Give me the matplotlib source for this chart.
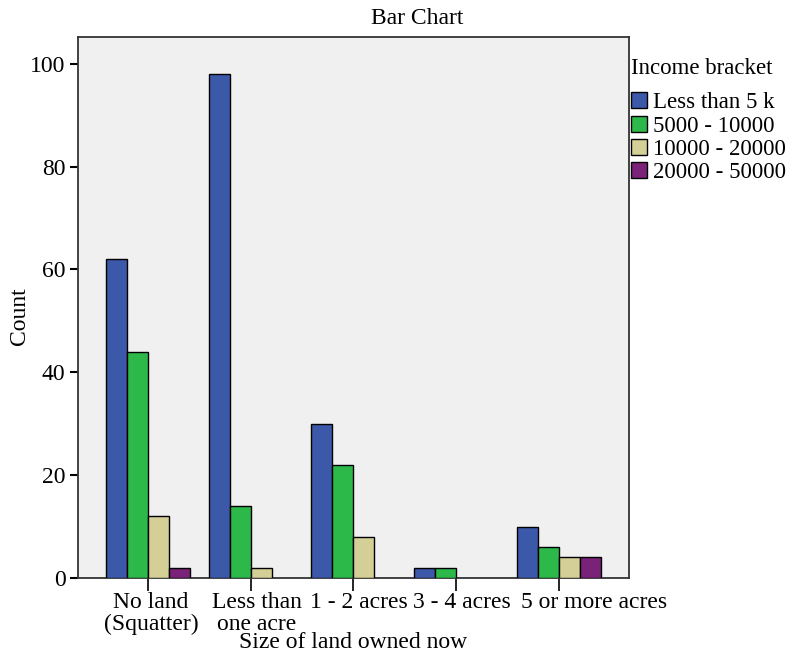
import matplotlib
matplotlib.use("Agg")
import matplotlib.pyplot as plt
import numpy as np

categories = ["No land\n(Squatter)", "Less than\none acre", "1 - 2 acres", "3 - 4 acres", "5 or more acres"]
series_names = ["Less than 5 k", "5000 - 10000", "10000 - 20000", "20000 - 50000"]
less_than_5k = [62, 98, 30, 2, 10]
s5000_10000 = [44, 14, 22, 2, 6]
s10000_20000 = [12, 2, 8, 0, 4]
s20000_50000 = [2, 0, 0, 0, 4]
yticks = [0, 20, 40, 60, 80, 100]

colors = ["#3c58a8", "#2db84a", "#d4cf96", "#7a2278"]
values = [less_than_5k, s5000_10000, s10000_20000, s20000_50000]
# horizontal shift of each category label (axis units), as laid out in the reference
label_shift = [0.03, 0.06, 0.05, 0.06, 0.34]

plt.rcParams['font.family'] = ['Liberation Serif', 'DejaVu Serif']

fig = plt.figure(figsize=(7.96, 6.54), dpi=100)
ax = fig.add_axes([0.098, 0.1162, 0.692, 0.8272])
ax.set_facecolor("#f0f0f0")

x = np.arange(len(categories))
w = 0.205
handles = []
for i, (vals, c, name) in enumerate(zip(values, colors, series_names)):
    xs = x + (i - 1.5) * w
    mask = [v > 0 for v in vals]
    b = ax.bar(xs[mask], np.array(vals)[mask], width=w, color=c, edgecolor="black", linewidth=1.0, label=name, zorder=3)
    handles.append(b)

ax.set_xlim(-0.68, 4.68)
ax.set_ylim(0, 105.2)
ax.set_yticks(yticks)
ax.set_xticks(x)
ax.set_xticklabels([""] * len(categories))
ax.set_xticks(x + np.array(label_shift), minor=True)
ax.set_xticklabels(categories, minor=True, fontsize=17, linespacing=1.08)
ax.tick_params(axis='y', labelsize=17, length=6, width=1.5, direction='out', pad=3)
ax.tick_params(axis='x', which='major', length=9, width=1.2, direction='out', pad=1)
ax.tick_params(axis='x', which='minor', length=0, pad=10)
for s in ax.spines.values():
    s.set_linewidth(1.3)
    s.set_color("#333333")
ax.set_ylabel("Count", fontsize=17)
ax.yaxis.set_label_coords(-0.088, 0.484)
ax.set_xlabel("Size of land owned now", fontsize=17, va="center")
ax.xaxis.set_label_coords(0.5, -(642 - 578) / 541)
fig.text(417 / 796, 1 - 19 / 654, "Bar Chart", fontsize=17, ha="center", va="center")

leg = fig.legend(handles=handles, labels=series_names, title="Income bracket",
                 loc="upper left", bbox_to_anchor=(0.793, 0.912), frameon=False,
                 fontsize=16.5, title_fontsize=16.5, handlelength=0.7, handleheight=0.7,
                 handletextpad=0.25, labelspacing=0.1, borderaxespad=0, borderpad=0)
leg._legend_box.align = "left"
leg._legend_box.sep = 10

fig.savefig("out.png", dpi=100)
